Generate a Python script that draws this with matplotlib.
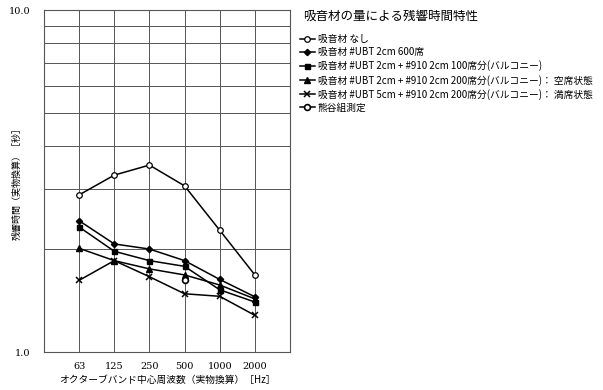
import matplotlib
matplotlib.use('Agg')
import matplotlib.pyplot as plt
from matplotlib.ticker import FixedLocator, NullFormatter
import numpy as np

plt.rcParams['font.family'] = ['Noto Sans CJK JP', 'DejaVu Sans']

# octave band centres (real-scale equivalent)
bands = ['63', '125', '250', '500', '1000', '2000']

rt_none = [2.88, 3.29, 3.52, 3.06, 2.27, 1.68]
rt_ubt600 = [2.42, 2.07, 2.00, 1.85, 1.63, 1.45]
rt_bal100 = [2.32, 1.97, 1.85, 1.78, 1.52, 1.40]
rt_bal200_empty = [2.01, 1.85, 1.75, 1.68, 1.57, 1.43]
rt_bal200_full = [1.62, 1.85, 1.66, 1.48, 1.455, 1.28]
kumagai_band = ['500']
kumagai_rt = [1.62]

labels = [
    '吸音材 なし',
    '吸音材 #UBT 2cm 600席',
    '吸音材 #UBT 2cm + #910 2cm 100席分(バルコニー)',
    '吸音材 #UBT 2cm + #910 2cm 200席分(バルコニー)： 空席状態',
    '吸音材 #UBT 5cm + #910 2cm 200席分(バルコニー)： 満席状態',
    '熊谷組測定',
]

fig = plt.figure(figsize=(6.03, 3.9), dpi=100)
ax = fig.add_axes([44/603, 38/390, 246/603, 342/390])

x = np.arange(1, len(bands) + 1)
kx = [bands.index(b) + 1 for b in kumagai_band]

lw = 1.1
h1, = ax.plot(x, rt_none, '-o', color='black', lw=lw, ms=4, mfc='white', mew=0.9)
h2, = ax.plot(x, rt_ubt600, '-D', color='black', lw=lw, ms=3.2)
h3, = ax.plot(x, rt_bal100, '-s', color='black', lw=lw, ms=3.6)
h4, = ax.plot(x, rt_bal200_empty, '-^', color='black', lw=lw, ms=4)
h5, = ax.plot(x, rt_bal200_full, '-x', color='black', lw=lw, ms=4, mew=1.1)
h6, = ax.plot(kx, kumagai_rt, '-o', color='black', lw=lw, ms=4.2, mfc='white', mew=1.2)

ax.set_yscale('log')
ax.set_ylim(1, 10)
ax.set_xlim(0, 7)
ax.yaxis.set_major_locator(FixedLocator([1, 10]))
ax.set_yticklabels(['1.0', '10.0'], family='DejaVu Serif', fontsize=7)
ax.yaxis.set_minor_locator(FixedLocator([2, 3, 4, 5, 6, 7, 8, 9]))
ax.yaxis.set_minor_formatter(NullFormatter())
ax.set_xticks(x)
ax.set_xticklabels(bands, family='DejaVu Serif', fontsize=7)
ax.tick_params(axis='both', which='both', length=0)
ax.tick_params(axis='y', pad=10)
ax.tick_params(axis='x', pad=7)
ax.grid(True, which='minor', axis='y', color='#555555', lw=0.7)
ax.grid(True, which='major', axis='x', color='#555555', lw=0.7)
for s in ax.spines.values():
    s.set_color('#555555')
    s.set_linewidth(0.8)

ax.set_xlabel('オクターブバンド中心周波数（実物換算）［Hz］', fontsize=7, labelpad=3)
ax.set_ylabel('残響時間（実物換算）［秒］', fontsize=6.5, labelpad=2)
ax.yaxis.set_label_coords(-0.09, 0.5)

fig.text(303/603, 1 - 16/390, '吸音材の量による残響時間特性', fontsize=9, va='center', ha='left')
fig.legend([h1, h2, h3, h4, h5, h6], labels, loc='upper left',
           bbox_to_anchor=(300/603, 1 - 34/390), frameon=False, fontsize=7,
           handlelength=1.5, handletextpad=0.35, labelspacing=0.33,
           borderaxespad=0, borderpad=0)

fig.savefig('out.png', dpi=100)
